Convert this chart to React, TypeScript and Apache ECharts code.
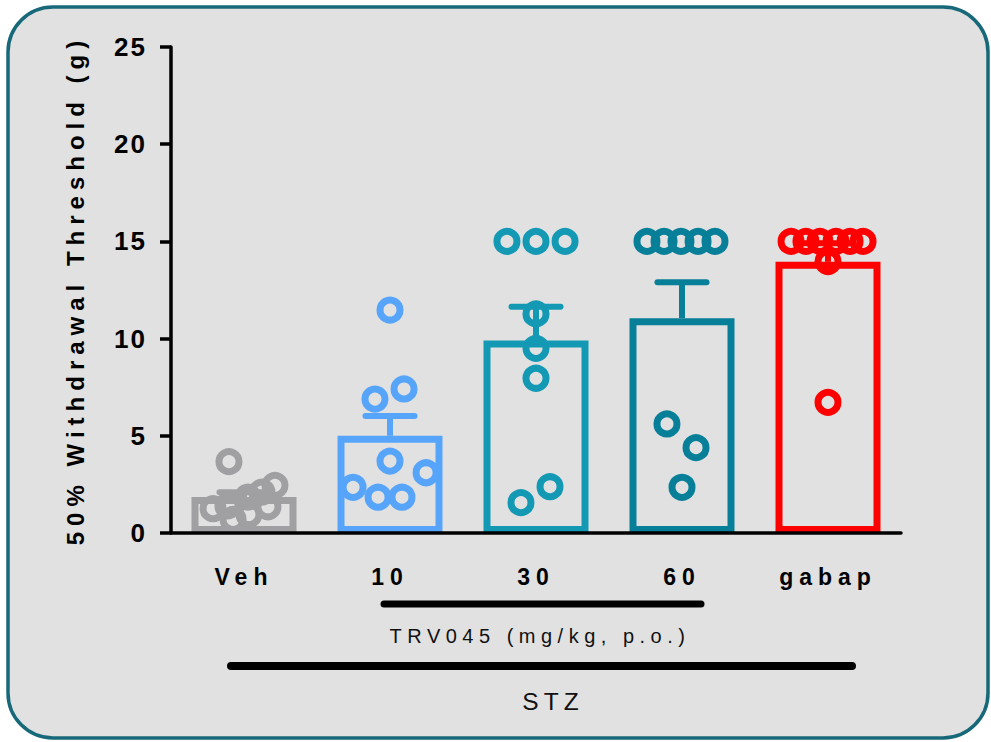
import React, { useEffect, useRef } from 'react';
import * as echarts from 'echarts';

// ---- data ----
const categories = ['Veh', '10', '30', '60', 'gabap'];
const barMeans = [1.85, 5.0, 9.9, 11.05, 13.95];
const barSem = [0.25, 1.02, 1.74, 1.85, 0.95];
const groupColors = ['#a0a0a2', '#57a5fa', '#1499b5', '#077f99', '#ff0000'];
const yMin = 0;
const yMax = 25;
const yStep = 5;

const vehValues = [3.67, 2.45, 2.1, 1.85, 1.4, 1.25, 0.7, 0.95, 1.35];
const vehOffsets = [-0.103, 0.212, 0.123, 0.027, -0.11, -0.212, -0.075, 0.034, 0.164];
const dose10Values = [11.47, 6.89, 7.41, 3.7, 3.1, 2.35, 1.84, 1.84];
const dose10Offsets = [0, -0.103, 0.096, 0, 0.247, -0.253, -0.082, 0.082];
const dose30Values = [15, 15, 15, 11.27, 9.5, 7.96, 2.38, 1.56];
const dose30Offsets = [-0.199, 0, 0.199, 0, 0, 0, 0.096, -0.103];
const dose60Values = [15, 15, 15, 15, 15, 5.61, 4.39, 2.35];
const dose60Offsets = [-0.24, -0.123, -0.007, 0.11, 0.226, -0.103, 0.096, 0];
const gabapValues = [15, 15, 15, 15, 15, 15, 13.96, 6.72];
const gabapOffsets = [-0.253, -0.151, -0.055, 0.055, 0.151, 0.24, 0, 0];

const groupValues = [vehValues, dose10Values, dose30Values, dose60Values, gabapValues];
const groupOffsets = [vehOffsets, dose10Offsets, dose30Offsets, dose60Offsets, gabapOffsets];

const yAxisTitle = '50% Withdrawal Threshold (g)';
const doseTitle = 'TRV045 (mg/kg, p.o.)';
const modelTitle = 'STZ';

const FONT = "'Liberation Sans', Arial, Helvetica, sans-serif";

export default function App() {
  const ref = useRef<HTMLDivElement>(null);

  useEffect(() => {
    if (!ref.current) return;
    const chart = echarts.init(ref.current, undefined, { renderer: 'svg' });

    const scatterSeries = groupValues.map((vals, gi) => ({
      type: 'scatter',
      name: categories[gi],
      xAxisIndex: 1,
      yAxisIndex: 0,
      z: 4,
      symbol: 'circle',
      symbolSize: 20,
      itemStyle: {
        color: 'rgba(0,0,0,0)',
        borderColor: groupColors[gi],
        borderWidth: 7,
        opacity: 1,
      },
      emphasis: { disabled: true },
      data: vals.map((v, i) => [gi + groupOffsets[gi][i], v]),
    }));

    const option: any = {
      animation: false,
      backgroundColor: '#ffffff',
      textStyle: { fontFamily: FONT },
      graphic: [
        {
          type: 'rect',
          z: -10,
          silent: true,
          shape: { x: 8, y: 7, width: 980, height: 731, r: 45 },
          style: { fill: '#e1e1e1', stroke: '#17697a', lineWidth: 3.5 },
        },
        {
          type: 'line',
          silent: true,
          shape: { x1: 384, y1: 604, x2: 701, y2: 604 },
          style: { stroke: '#000', lineWidth: 7, lineCap: 'round' },
        },
        {
          type: 'line',
          silent: true,
          shape: { x1: 231, y1: 666, x2: 852, y2: 666 },
          style: { stroke: '#000', lineWidth: 8, lineCap: 'round' },
        },
        {
          type: 'text',
          silent: true,
          x: 540,
          y: 636,
          style: {
            text: doseTitle,
            fontFamily: FONT,
            fontSize: 20,
            fill: '#111',
            align: 'center',
            verticalAlign: 'middle',
          },
        },
        {
          type: 'text',
          silent: true,
          x: 553,
          y: 701,
          style: {
            text: modelTitle,
            fontFamily: FONT,
            fontSize: 24.5,
            fill: '#111',
            align: 'center',
            verticalAlign: 'middle',
          },
        },
      ],
      grid: { left: 171, right: 90, top: 47, bottom: 209, containLabel: false },
      xAxis: [
        {
          type: 'category',
          data: categories,
          z: 10,
          axisLine: { lineStyle: { color: '#000', width: 3.5 } },
          axisTick: { alignWithLabel: true, length: 9, lineStyle: { color: '#000', width: 3.5 } },
          axisLabel: {
            color: '#000',
            fontWeight: 'bold',
            fontSize: 23,
            fontFamily: FONT,
            margin: 32,
          },
          splitLine: { show: false },
        },
        {
          type: 'value',
          min: -0.5,
          max: 4.5,
          show: false,
          splitLine: { show: false },
        },
      ],
      yAxis: [
        {
          type: 'value',
          min: yMin,
          max: yMax,
          interval: yStep,
          z: 10,
          name: yAxisTitle,
          nameLocation: 'middle',
          nameGap: 84,
          nameTextStyle: {
            color: '#000',
            fontWeight: 'bold',
            fontSize: 24,
            fontFamily: FONT,
          },
          axisLine: { show: true, onZero: false, lineStyle: { color: '#000', width: 3.5 } },
          axisTick: { show: true, length: 11, lineStyle: { color: '#000', width: 3.5 } },
          axisLabel: {
            color: '#000',
            fontWeight: 'bold',
            fontSize: 26,
            fontFamily: FONT,
            margin: 24,
          },
          splitLine: { show: false },
        },
      ],
      series: [
        {
          type: 'bar',
          xAxisIndex: 0,
          yAxisIndex: 0,
          z: 2,
          barWidth: 105,
          emphasis: { disabled: true },
          data: barMeans.map((m, i) => ({
            value: m,
            itemStyle: {
              color: 'rgba(0,0,0,0)',
              borderColor: groupColors[i],
              borderWidth: 7,
            },
          })),
        },
        {
          type: 'custom',
          xAxisIndex: 0,
          yAxisIndex: 0,
          z: 3,
          data: barMeans.map((m, i) => [i, m, m + barSem[i]]),
          renderItem: (params: any, api: any) => {
            const x = api.value(0);
            const lo = api.coord([x, api.value(1)]);
            const hi = api.coord([x, api.value(2)]);
            const half = api.size([1, 0])[0] * 0.168;
            const c = groupColors[params.dataIndex];
            return {
              type: 'group',
              children: [
                {
                  type: 'line',
                  shape: { x1: lo[0], y1: lo[1], x2: hi[0], y2: hi[1] },
                  style: { stroke: c, lineWidth: 6 },
                },
                {
                  type: 'line',
                  shape: { x1: hi[0] - half, y1: hi[1], x2: hi[0] + half, y2: hi[1] },
                  style: { stroke: c, lineWidth: 6, lineCap: 'round' },
                },
              ],
            };
          },
        },
        ...scatterSeries,
      ],
    };

    chart.setOption(option);
    return () => chart.dispose();
  }, []);

  return (
    <>
      <style>{`
        .chart-host text[style*="26px"] { letter-spacing: 2px; }
        .chart-host text[style*="23px"] { letter-spacing: 6px; }
        .chart-host text[style*="24px"] { letter-spacing: 6px; }
        .chart-host text[style*="20px"] { letter-spacing: 5.5px; }
        .chart-host text[style*="24.5px"] { letter-spacing: 5px; }
      `}</style>
      <div
        ref={ref}
        className="chart-host"
        style={{ position: 'fixed', left: 0, top: 0, width: 991, height: 742 }}
      />
    </>
  );
}
